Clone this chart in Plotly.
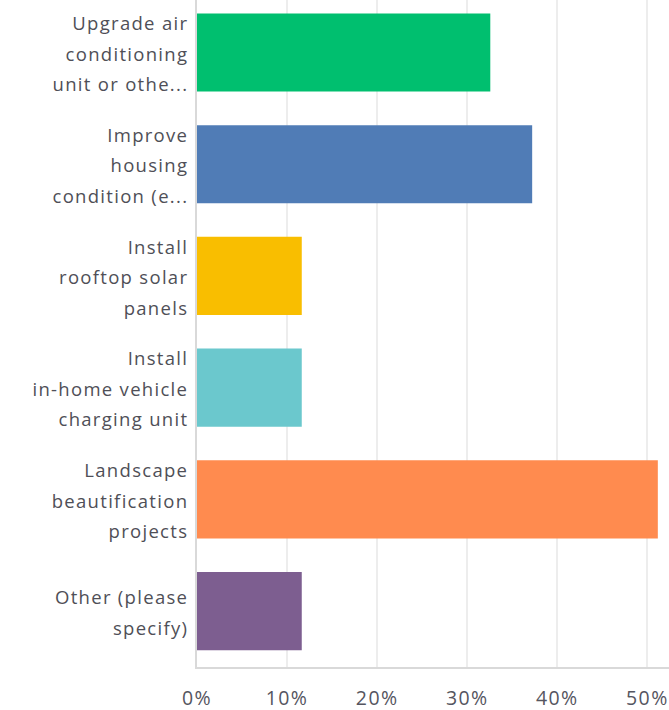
import plotly.graph_objects as go

categories = [
    "Upgrade air<br>conditioning<br>unit or othe...",
    "Improve<br>housing<br>condition (e...",
    "Install<br>rooftop solar<br>panels",
    "Install<br>in-home vehicle<br>charging unit",
    "Landscape<br>beautification<br>projects",
    "Other (please<br>specify)",
]
values = [32.56, 37.21, 11.63, 11.63, 51.16, 11.63]
colors = ["#00BF6F", "#507CB6", "#F9BE00", "#6BC8CD", "#FF8B4F", "#7D5E90"]
x_ticks = [0, 10, 20, 30, 40, 50]
x_tick_labels = ["0%", "10%", "20%", "30%", "40%", "50%"]

FONT = "Open Sans"

def styled(label, size, spacing):
    return "<br>".join(
        '<span style="font-size:%spx;letter-spacing:%s">%s</span>' % (size, spacing, part)
        for part in label.split("<br>")
    )

fig = go.Figure(
    go.Bar(
        x=values,
        y=list(range(len(categories))),
        orientation="h",
        marker=dict(color=colors, line=dict(width=0)),
        hoverinfo="skip",
    )
)

fig.update_layout(
    width=669,
    height=710,
    margin=dict(l=197, r=0, t=0, b=43),
    paper_bgcolor="white",
    plot_bgcolor="white",
    bargap=0.3,
    showlegend=False,
    font=dict(family=FONT, color="#4f4f57"),
)

fig.update_xaxes(
    range=[0, 52.4],
    tickvals=x_ticks,
    ticktext=[styled(t, 19.5, "1.4px") for t in x_tick_labels],
    tickfont=dict(family=FONT, size=19.5, color="#555560"),
    showgrid=True,
    gridcolor="#ededed",
    gridwidth=1.5,
    zeroline=False,
    showline=True,
    linecolor="#d9d9d9",
    linewidth=2,
    ticks="outside",
    ticklen=13,
    tickcolor="rgba(0,0,0,0)",
    fixedrange=True,
)

fig.update_yaxes(
    range=[5.5, -0.47],
    tickvals=list(range(len(categories))),
    ticktext=[styled(c, 18.5, "1.3px") for c in categories],
    tickfont=dict(family=FONT, size=23.5, color="#4f4f57"),
    showgrid=False,
    zeroline=False,
    showline=True,
    linecolor="#d9d9d9",
    linewidth=2,
    ticks="outside",
    ticklen=2,
    tickcolor="rgba(0,0,0,0)",
    fixedrange=True,
)

fig.write_html(
    "out.html",
    config={"displayModeBar": False},
    post_script="document.body.style.margin='0';document.body.style.padding='0';",
)
